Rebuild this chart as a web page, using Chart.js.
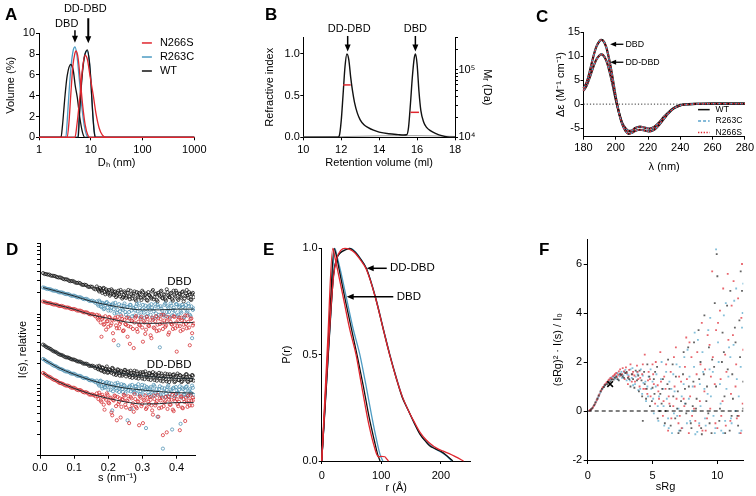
<!DOCTYPE html>
<html>
<head>
<meta charset="utf-8">
<script src="https://cdn.jsdelivr.net/npm/chart.js@4.4.1/dist/chart.umd.min.js"></script>
<style>
  body { margin: 0; background: #fff; }
  #fig { position: relative; width: 756px; height: 496px; overflow: hidden; font-family: "Liberation Sans", Arial, sans-serif; }
  canvas { position: absolute; }
  .lab { position: absolute; font-weight: bold; font-size: 17px; line-height: 17px; }
</style>
</head>
<body>
<div id="fig">
  <canvas id="cA" width="250" height="175" style="left:0;top:0"></canvas>
  <canvas id="cB" width="250" height="175" style="left:250px;top:0"></canvas>
  <canvas id="cC" width="256" height="175" style="left:500px;top:0"></canvas>
  <canvas id="cD" width="250" height="266" style="left:0;top:230px"></canvas>
  <canvas id="cE" width="250" height="266" style="left:250px;top:230px"></canvas>
  <canvas id="cF" width="256" height="266" style="left:500px;top:230px"></canvas>
  <div class="lab" style="left:5px;top:6px">A</div>
  <div class="lab" style="left:265px;top:6px">B</div>
  <div class="lab" style="left:536px;top:8px">C</div>
  <div class="lab" style="left:6px;top:241px">D</div>
  <div class="lab" style="left:263px;top:241px">E</div>
  <div class="lab" style="left:539px;top:241px">F</div>
</div>
<script>
// ---- A: DLS volume distributions (Dh in nm, volume %) ----
const dlsDbdWtX = [1, 2.66, 2.85, 3.0, 3.18, 3.5, 4.1, 4.6, 5.0, 5.5, 6.1, 6.9, 7.7, 1000];
const dlsDbdWtY = [0, 0, 1.2, 2.5, 4.0, 5.9, 7.0, 6.4, 5.0, 3.8, 2.0, 0.5, 0, 0];
const dlsDbdR263cX = [1, 3.3, 3.5, 3.8, 4.2, 4.6, 4.95, 5.4, 6.0, 6.7, 7.5, 8.3, 9.0, 1000];
const dlsDbdR263cY = [0, 0, 1.5, 4.3, 7.0, 8.4, 8.7, 7.9, 5.6, 3.0, 1.1, 0.2, 0, 0];
const dlsDbdN266sX = [1, 3.5, 3.8, 4.1, 4.5, 4.9, 5.2, 5.7, 6.3, 7.0, 7.8, 8.8, 9.6, 1000];
const dlsDbdN266sY = [0, 0, 1.5, 4.0, 6.8, 8.0, 8.3, 7.6, 5.4, 3.0, 1.2, 0.2, 0, 0];
const dlsDdWtX = [1, 5.74, 6.0, 6.38, 6.9, 7.6, 8.6, 9.4, 10.0, 10.4, 11.0, 11.6, 12.2, 1000];
const dlsDdWtY = [0, 0, 1.8, 4.0, 6.2, 7.8, 8.4, 7.3, 5.6, 4.0, 2.0, 0.6, 0, 0];
const dlsDdR263cX = [1, 5.6, 5.9, 6.3, 6.9, 7.6, 8.5, 9.3, 10.0, 10.4, 11.0, 11.7, 12.3, 1000];
const dlsDdR263cY = [0, 0, 1.6, 4.0, 6.4, 7.9, 8.3, 7.4, 5.6, 4.1, 2.1, 0.6, 0, 0];
const dlsDdN266sX = [1, 4.95, 5.4, 5.8, 6.2, 6.8, 7.7, 8.6, 9.6, 11.2, 12.7, 14.5, 16.8, 19.4, 1000];
const dlsDdN266sY = [0, 0, 1.2, 2.6, 4.0, 6.2, 7.9, 7.5, 6.0, 4.0, 2.2, 0.9, 0.2, 0, 0];
const dlsTicksX = [1, 10, 100, 1000];
const dlsTicksY = [0, 2, 4, 6, 8, 10];

// ---- B: SEC-MALS ----
const secVol = [10, 11.8, 11.9, 12.0, 12.1, 12.2, 12.3, 12.4, 12.5, 12.6, 12.7, 12.85, 13.0, 13.2, 13.4, 13.7, 14.0, 14.5, 15.0, 15.3,
                15.45, 15.55, 15.65, 15.75, 15.85, 15.92, 16.0, 16.1, 16.2, 16.35, 16.5, 16.7, 17.0, 17.3, 17.6, 18];
const secRi = [0, 0, 0.02, 0.2, 0.52, 0.85, 1.0, 0.93, 0.72, 0.55, 0.42, 0.29, 0.21, 0.15, 0.12, 0.085, 0.062, 0.042, 0.032, 0.028,
               0.03, 0.12, 0.4, 0.72, 0.95, 1.0, 0.88, 0.55, 0.32, 0.18, 0.12, 0.08, 0.045, 0.02, 0.005, 0];
const secBaseVol = [10, 12, 14, 16, 18];
const secBaseRi = [0.004, 0.008, 0.018, 0.02, 0.01];
const mrDdVol = [12.1, 12.5], mrDdDa = [60000, 60000];
const mrDbdVol = [15.65, 16.1], mrDbdDa = [23500, 23500];
const secTicksX = [10, 12, 14, 16, 18];
const secTicksY = [0, 0.5, 1.0];

// ---- C: CD spectra ----
const cdWl = [180, 182, 184, 186, 188, 190, 191, 192, 194, 196, 198, 200, 202, 204, 206, 208, 210, 212, 215, 218,
              221, 224, 227, 230, 233, 236, 240, 245, 250, 260, 270, 280];
const cdDbd = [3.3, 4.6, 7.0, 9.8, 12.0, 13.2, 13.4, 13.3, 12.0, 9.2, 5.6, 1.5, -1.8, -4.2, -5.6, -6.2, -6.0, -5.6, -5.35, -5.5,
               -5.7, -5.3, -4.3, -3.0, -1.8, -0.9, -0.25, -0.05, 0.05, 0.1, 0.1, 0.1];
const cdDd = [2.8, 3.9, 5.7, 7.7, 9.3, 10.2, 10.4, 10.3, 9.2, 7.0, 4.1, 0.9, -1.8, -3.9, -5.0, -5.6, -5.5, -5.0, -4.7, -4.9,
              -5.1, -4.7, -3.8, -2.6, -1.6, -0.8, -0.2, 0, 0.05, 0.1, 0.1, 0.1];
const cdZeroWl = [180, 280];
const cdTicksX = [180, 200, 220, 240, 260, 280];
const cdTicksY = [-5, 0, 5, 10, 15];

// ---- D: SAXS curves, log10 I(s), two interleaved s grids ----
const sGrid = [0.009, 0.018, 0.027, 0.036, 0.045, 0.054, 0.063, 0.072, 0.081, 0.09, 0.099, 0.108, 0.117, 0.126, 0.135, 0.144, 0.153, 0.162,
  0.1665, 0.171, 0.1755, 0.18, 0.1845, 0.189, 0.1935, 0.198, 0.2025, 0.207, 0.2115, 0.216, 0.2205, 0.225, 0.2295, 0.234,
  0.2385, 0.243, 0.2475, 0.252, 0.2565, 0.261, 0.2655, 0.27, 0.2745, 0.279, 0.2835, 0.288, 0.2925, 0.297, 0.3015, 0.306,
  0.3105, 0.315, 0.3195, 0.324, 0.3285, 0.333, 0.3375, 0.342, 0.3465, 0.351, 0.3555, 0.36, 0.3645, 0.369, 0.3735, 0.378,
  0.3825, 0.387, 0.3915, 0.396, 0.4005, 0.405, 0.4095, 0.414, 0.4185, 0.423, 0.4275, 0.432, 0.4365, 0.441, 0.4455, 0.45];
const sGridB = [0.0135, 0.0225, 0.0315, 0.0405, 0.0495, 0.0585, 0.0675, 0.0765, 0.0855, 0.0945, 0.1035, 0.1125, 0.1215, 0.1305, 0.1395, 0.1485, 0.1575,
  0.16875, 0.17325, 0.17775, 0.18225, 0.18675, 0.19125, 0.19575, 0.20025, 0.20475, 0.20925, 0.21375, 0.21825, 0.22275, 0.22725, 0.23175, 0.23625,
  0.24075, 0.24525, 0.24975, 0.25425, 0.25875, 0.26325, 0.26775, 0.27225, 0.27675, 0.28125, 0.28575, 0.29025, 0.29475, 0.29925, 0.30375, 0.30825,
  0.31275, 0.31725, 0.32175, 0.32625, 0.33075, 0.33525, 0.33975, 0.34425, 0.34875, 0.35325, 0.35775, 0.36225, 0.36675, 0.37125, 0.37575, 0.38025,
  0.38475, 0.38925, 0.39375, 0.39825, 0.40275, 0.40725, 0.41175, 0.41625, 0.42075, 0.42525, 0.42975, 0.43425, 0.43875, 0.44325, 0.44775];
const saxsDbdWt = [2.579, 2.565, 2.558, 2.541, 2.535, 2.517, 2.511, 2.491, 2.486, 2.465, 2.461, 2.44, 2.437, 2.412, 2.41, 2.383, 2.384, 2.35,
  2.39, 2.34, 2.37, 2.33, 2.36, 2.31, 2.35, 2.29, 2.34, 2.28, 2.33, 2.27, 2.32, 2.26, 2.33, 2.25,
  2.31, 2.24, 2.32, 2.23, 2.30, 2.25, 2.33, 2.22, 2.29, 2.21, 2.31, 2.24, 2.28, 2.20, 2.31, 2.23,
  2.29, 2.19, 2.27, 2.24, 2.32, 2.21, 2.28, 2.20, 2.30, 2.25, 2.33, 2.22, 2.27, 2.19, 2.31, 2.24,
  2.29, 2.21, 2.33, 2.25, 2.30, 2.20, 2.28, 2.23, 2.32, 2.22, 2.29, 2.26, 2.31, 2.21, 2.28, 2.24];
const saxsDbdWtB = [2.566, 2.558, 2.545, 2.54, 2.523, 2.519, 2.498, 2.492, 2.47, 2.468, 2.446, 2.443, 2.419, 2.415, 2.39, 2.389, 2.36,
  2.36, 2.32, 2.35, 2.30, 2.37, 2.28, 2.33, 2.31, 2.26, 2.35, 2.29, 2.31, 2.24, 2.30, 2.28, 2.34,
  2.22, 2.27, 2.30, 2.25, 2.34, 2.21, 2.28, 2.26, 2.32, 2.19, 2.26, 2.30, 2.23, 2.33, 2.25, 2.27,
  2.20, 2.31, 2.26, 2.22, 2.34, 2.24, 2.29, 2.18, 2.27, 2.32, 2.23, 2.28, 2.21, 2.35, 2.26, 2.24,
  2.30, 2.19, 2.27, 2.33, 2.22, 2.29, 2.25, 2.31, 2.18, 2.26, 2.34, 2.23, 2.28, 2.20, 2.30];
const saxsDbdR263c = [2.376, 2.36, 2.353, 2.336, 2.33, 2.311, 2.307, 2.288, 2.284, 2.263, 2.261, 2.24, 2.239, 2.215, 2.216, 2.188, 2.19, 2.16,
  2.18, 2.12, 2.17, 2.10, 2.15, 2.08, 2.16, 2.09, 2.14, 2.05, 2.13, 2.07, 2.16, 2.02, 1.56, 2.04,
  2.12, 2.06, 2.15, 1.99, 2.10, 2.03, 2.13, 1.97, 2.08, 2.05, 2.14, 1.98, 2.09, 2.02, 2.13, 1.95,
  2.07, 2.01, 2.12, 1.99, 2.09, 2.04, 2.14, 1.96, 2.10, 1.53, 2.08, 2.00, 2.13, 1.97, 2.11, 2.03,
  2.15, 1.98, 2.09, 2.05, 2.14, 1.99, 2.12, 2.02, 2.10, 1.96, 2.13, 2.04, 2.11, 1.97, 1.66, 2.08];
const saxsDbdR263cB = [2.371, 2.354, 2.348, 2.33, 2.324, 2.306, 2.301, 2.282, 2.277, 2.258, 2.254, 2.236, 2.231, 2.211, 2.207, 2.185, 2.18,
  2.14, 2.19, 2.11, 2.16, 2.07, 2.13, 2.17, 2.05, 2.12, 2.09, 2.15, 2.01, 2.11, 2.06, 2.14, 1.99,
  2.08, 2.12, 2.03, 2.10, 1.96, 2.13, 2.05, 2.09, 1.98, 2.11, 2.04, 2.15, 1.95, 2.07, 2.02, 2.12,
  1.97, 2.10, 2.06, 2.14, 1.94, 2.08, 2.01, 2.13, 1.99, 2.11, 2.05, 1.98, 2.15, 2.03, 2.09, 1.96,
  2.12, 2.06, 2.00, 2.14, 1.97, 2.10, 2.04, 2.13, 1.95, 2.08, 2.02, 2.15, 1.99, 2.11, 2.06];
const saxsDbdN266s = [2.178, 2.163, 2.157, 2.141, 2.136, 2.118, 2.115, 2.097, 2.094, 2.074, 2.072, 2.052, 2.05, 2.027, 2.026, 2.0, 2.001, 1.97,
  1.99, 1.92, 1.96, 1.68, 1.95, 1.86, 1.78, 1.90, 1.96, 1.84, 1.92, 1.63, 1.95, 1.80, 1.91, 1.86,
  1.97, 1.76, 1.92, 1.85, 1.68, 1.94, 1.82, 1.90, 1.52, 1.95, 1.79, 1.89, 1.84, 1.96, 1.61, 1.88,
  1.78, 1.93, 1.83, 1.70, 1.95, 1.81, 1.90, 1.76, 1.94, 1.86, 1.99, 1.79, 1.91, 1.84, 1.96, 1.74,
  1.89, 1.85, 1.97, 1.80, 1.47, 1.92, 1.83, 1.95, 1.78, 1.90, 1.86, 1.98, 1.81, 1.93, 1.73, 1.87];
const saxsDbdN266sB = [2.174, 2.157, 2.152, 2.135, 2.131, 2.113, 2.109, 2.092, 2.088, 2.07, 2.066, 2.048, 2.043, 2.024, 2.019, 1.996, 1.992,
  1.94, 1.98, 1.88, 1.93, 1.85, 1.97, 1.90, 1.82, 1.95, 1.87, 1.73, 1.92, 1.84, 1.96, 1.80, 1.89,
  1.93, 1.77, 1.86, 1.95, 1.83, 1.58, 1.91, 1.79, 1.88, 1.97, 1.75, 1.85, 1.93, 1.81, 1.90, 1.72,
  1.96, 1.84, 1.88, 1.66, 1.92, 1.80, 1.97, 1.85, 1.77, 1.93, 1.87, 1.99, 1.82, 1.90, 1.71, 1.94,
  1.86, 1.79, 1.96, 1.88, 1.83, 1.95, 1.76, 1.91, 1.85, 1.98, 1.80, 1.89, 1.56, 1.94, 1.84];
const saxsDdWt = [1.569, 1.538, 1.517, 1.487, 1.467, 1.437, 1.422, 1.397, 1.388, 1.366, 1.358, 1.335, 1.329, 1.303, 1.3, 1.27, 1.271, 1.24,
  1.26, 1.22, 1.25, 1.20, 1.24, 1.18, 1.23, 1.17, 1.22, 1.19, 1.24, 1.15, 1.20, 1.16, 1.21, 1.13,
  1.19, 1.15, 1.21, 1.12, 1.18, 1.14, 1.20, 1.10, 1.17, 1.13, 1.19, 1.09, 1.16, 1.12, 1.18, 1.08,
  1.15, 1.11, 1.17, 1.07, 1.14, 1.10, 1.16, 1.06, 1.13, 1.09, 1.16, 1.05, 1.12, 1.08, 1.15, 1.04,
  1.12, 1.09, 1.15, 1.05, 1.13, 1.07, 1.14, 1.04, 1.11, 1.08, 1.15, 1.05, 1.12, 1.07, 1.14, 1.06];
const saxsDdWtB = [1.556, 1.525, 1.505, 1.474, 1.455, 1.427, 1.413, 1.389, 1.38, 1.359, 1.35, 1.329, 1.32, 1.298, 1.291, 1.268, 1.262,
  1.23, 1.27, 1.21, 1.25, 1.19, 1.22, 1.26, 1.18, 1.21, 1.17, 1.23, 1.19, 1.14, 1.22, 1.17, 1.20,
  1.13, 1.18, 1.21, 1.15, 1.19, 1.11, 1.17, 1.14, 1.20, 1.10, 1.16, 1.13, 1.18, 1.09, 1.15, 1.19,
  1.12, 1.08, 1.16, 1.13, 1.18, 1.07, 1.14, 1.11, 1.17, 1.06, 1.13, 1.10, 1.16, 1.05, 1.12, 1.15,
  1.08, 1.14, 1.04, 1.11, 1.16, 1.07, 1.13, 1.05, 1.12, 1.09, 1.15, 1.04, 1.11, 1.07, 1.13];
const saxsDdR263c = [1.366, 1.336, 1.314, 1.285, 1.266, 1.237, 1.222, 1.196, 1.188, 1.163, 1.158, 1.132, 1.128, 1.1, 1.097, 1.068, 1.066, 1.04,
  1.06, 1.01, 1.05, 0.98, 1.04, 0.96, 1.02, 0.99, 1.03, 0.93, 0.64, 0.97, 1.02, 0.92, 1.00, 0.95,
  1.01, 0.90, 0.99, 0.94, 0.50, 0.97, 0.91, 1.00, 0.89, 0.98, 0.93, 1.01, 0.87, 0.96, 0.92, 0.99,
  0.39, 0.95, 0.86, 0.97, 0.90, 1.00, 0.85, 0.94, 0.89, 0.98, 0.84, 0.10, 0.95, 0.88, 0.97, 0.83,
  0.93, 0.37, 0.96, 0.85, 0.92, 0.88, 0.98, 0.82, 0.94, 0.87, 0.97, 0.84, 0.92, 0.89, 0.99, 0.86];
const saxsDdR263cB = [1.354, 1.322, 1.303, 1.272, 1.255, 1.227, 1.212, 1.189, 1.179, 1.157, 1.148, 1.127, 1.117, 1.096, 1.086, 1.064, 1.056,
  1.03, 0.99, 1.06, 0.95, 1.01, 0.97, 1.04, 0.93, 0.99, 1.02, 0.91, 0.98, 0.95, 1.03, 0.90, 0.97,
  0.94, 1.00, 0.88, 0.96, 0.92, 0.99, 0.66, 0.94, 0.90, 0.98, 0.87, 0.95, 0.91, 1.00, 0.86, 0.93,
  0.97, 0.89, 0.95, 0.84, 0.92, 0.98, 0.88, 0.55, 0.94, 0.86, 0.96, 0.90, 0.83, 0.93, 0.99, 0.87,
  0.91, 0.95, 0.84, 0.97, 0.89, 0.93, 0.45, 0.96, 0.86, 0.92, 0.98, 0.85, 0.94, 0.88, 0.96];
const saxsDdN266s = [1.168, 1.137, 1.115, 1.086, 1.067, 1.037, 1.022, 0.998, 0.99, 0.965, 0.96, 0.932, 0.928, 0.9, 0.897, 0.865, 0.866, 0.84,
  0.88, 0.80, 0.85, 0.76, 0.83, 0.65, 0.79, 0.86, 0.74, 0.82, 0.57, 0.78, 0.84, 0.50, 0.73, 0.81,
  0.69, 0.79, 0.85, 0.68, 0.77, 0.46, 0.83, 0.71, 0.62, 0.80, 0.67, 0.76, 0.84, 0.70, 0.46, 0.78,
  0.66, 0.82, 0.73, 0.79, 0.64, 0.85, 0.71, 0.77, 0.55, 0.81, 0.68, 0.29, 0.75, 0.83, 0.66, 0.79,
  0.72, 0.86, 0.63, 0.77, 0.80, 0.70, 0.36, 0.84, 0.67, 0.76, 0.82, 0.69, 0.78, 0.85, 0.71, 0.79];
const saxsDdN266sB = [1.156, 1.122, 1.104, 1.073, 1.056, 1.026, 1.014, 0.99, 0.982, 0.958, 0.95, 0.926, 0.918, 0.893, 0.886, 0.861, 0.857,
  0.84, 0.89, 0.78, 0.86, 0.72, 0.82, 0.88, 0.75, 0.81, 0.61, 0.79, 0.85, 0.70, 0.83, 0.76, 0.54,
  0.80, 0.86, 0.72, 0.78, 0.84, 0.66, 0.81, 0.74, 0.87, 0.69, 0.77, 0.43, 0.82, 0.73, 0.79, 0.85,
  0.68, 0.76, 0.83, 0.71, 0.58, 0.80, 0.74, 0.86, 0.67, 0.78, 0.82, 0.70, 0.77, 0.33, 0.84, 0.72,
  0.79, 0.65, 0.81, 0.87, 0.73, 0.76, 0.83, 0.68, 0.80, 0.49, 0.75, 0.85, 0.71, 0.78, 0.82];
const sFit = [0.009, 0.05, 0.1, 0.15, 0.2, 0.25, 0.3, 0.35, 0.4, 0.45];
const fitDbdR263c = [2.375, 2.322, 2.256, 2.18, 2.128, 2.085, 2.06, 2.06, 2.07, 2.07];
const fitDbdN266s = [2.178, 2.13, 2.068, 1.99, 1.94, 1.89, 1.87, 1.87, 1.88, 1.88];
const fitDdWt = [1.568, 1.452, 1.352, 1.27, 1.20, 1.155, 1.126, 1.105, 1.093, 1.09];
const fitDdR263c = [1.366, 1.252, 1.15, 1.065, 0.999, 0.955, 0.928, 0.905, 0.89, 0.885];
const fitDdN266s = [1.168, 1.052, 0.952, 0.87, 0.81, 0.76, 0.73, 0.735, 0.75, 0.75];
const saxsTicksX = [0, 0.1, 0.2, 0.3, 0.4];

// ---- E: pair distance distributions ----
const prDbdWtR = [0, 5, 10, 15, 20.7, 25, 30, 40, 50, 60, 70, 80, 88, 94, 98];
const prDbdWtP = [0, 0.25, 0.5, 0.76, 1.0, 0.96, 0.89, 0.75, 0.62, 0.49, 0.35, 0.2, 0.1, 0.03, 0];
const prDbdR263cR = [0, 5, 10, 15, 22, 26, 32, 42, 52, 64, 74, 84, 92, 98, 102.5];
const prDbdR263cP = [0, 0.23, 0.46, 0.69, 1.0, 0.96, 0.89, 0.76, 0.63, 0.5, 0.36, 0.21, 0.1, 0.03, 0];
const prDbdN266sR = [0, 5, 10, 18.5, 22, 28, 37.5, 47, 57.6, 66, 73, 80, 88, 95, 100, 106, 109, 112];
const prDbdN266sP = [0, 0.28, 0.56, 1.0, 0.96, 0.88, 0.75, 0.62, 0.5, 0.37, 0.26, 0.16, 0.07, 0.02, 0.022, 0.02, 0.01, 0];
const prDdWtR = [0, 5, 10, 15, 20, 25, 30, 38, 47, 55, 65, 75, 90, 105, 114, 125, 135, 145, 155, 165, 175, 181, 190, 200, 210, 220];
const prDdWtP = [0, 0.22, 0.45, 0.68, 0.88, 0.95, 0.975, 0.99, 1.0, 0.985, 0.95, 0.905, 0.77, 0.6, 0.5, 0.39, 0.3, 0.24, 0.18, 0.125,
                 0.09, 0.072, 0.058, 0.045, 0.025, 0];
const prDdR263cR = [0, 5, 10, 15, 20, 25, 30, 40, 48, 56, 65, 75, 90, 105, 114, 125, 135, 145, 155, 165, 175, 185, 195, 205, 212, 218];
const prDdR263cP = [0, 0.23, 0.46, 0.69, 0.88, 0.95, 0.975, 0.995, 1.0, 0.985, 0.952, 0.905, 0.775, 0.605, 0.505, 0.395, 0.305, 0.24,
                    0.18, 0.128, 0.092, 0.068, 0.05, 0.033, 0.018, 0];
const prDdN266sR = [0, 5, 10, 15, 20, 25, 32, 39, 47, 55, 65, 75, 90, 105, 114, 125, 135, 145, 155, 165, 175, 185, 192, 204, 214, 226, 238];
const prDdN266sP = [0, 0.24, 0.48, 0.7, 0.87, 0.95, 0.99, 1.0, 0.995, 0.98, 0.945, 0.9, 0.77, 0.6, 0.5, 0.39, 0.305, 0.24, 0.185, 0.135,
                    0.1, 0.075, 0.062, 0.046, 0.035, 0.018, 0];
const prTicksX = [0, 100, 200];
const prTicksY = [0, 0.5, 1.0];

// ---- F: dimensionless Kratky plots [sRg, (sRg)^2 I/I0] ----
const kratkyN266s = [[0.15,0.02],[0.3,0.08],[0.45,0.2],[0.6,0.34],[0.75,0.5],[0.9,0.68],[1.05,0.85],[1.2,0.98],[1.35,1.1],[1.5,1.18],
  [1.65,1.28],[1.8,1.33],[1.95,1.42],[2.1,1.5],[2.25,1.38],[2.4,1.62],[2.55,1.45],[2.7,1.75],[2.85,1.3],[3.0,1.55],
  [3.2,1.68],[3.4,1.2],[3.6,1.45],[3.8,1.85],[4.0,1.0],[4.2,1.5],[4.4,2.3],[4.6,0.7],[4.8,1.3],[5.0,1.9],
  [5.2,0.3],[5.4,1.05],[5.6,2.4],[5.8,-0.2],[6.0,0.9],[6.2,-0.8],[6.4,1.6],[6.6,0.2],[6.8,2.6],[7.0,-0.5],
  [7.2,1.2],[7.4,0.5],[7.6,3.0],[7.8,-0.9],[8.0,2.2],[8.2,0.1],[8.4,1.5],[8.6,-0.6],[8.8,3.6],[9.0,0.8],
  [9.2,-0.3],[9.4,2.7],[9.6,5.7],[9.8,1.1],[10.0,-0.7],[10.2,4.1],[10.4,0.4],[10.6,2.3],[10.8,5.6],[11.0,-0.4],
  [11.2,3.1],[11.4,1.0],[11.6,4.6],[11.8,-0.9],[12.0,2.5],
  [3.1,1.1],[3.5,1.6],[3.9,1.3],[4.3,0.9],[4.7,1.6],[5.1,1.1],[5.5,0.5],[5.9,1.4],[6.3,0.3],[6.7,1.0],
  [7.1,-0.2],[7.5,1.8],[7.9,0.6],[8.3,-0.4],[8.7,1.9],[9.1,-0.8],[9.5,1.4],[9.9,3.3],[10.3,-0.2],[10.7,1.6],
  [11.1,4.3],[11.5,-0.3],[11.9,6.0],
  [0.2,0.04],[0.4,0.14],[0.55,0.27],[0.7,0.44],[0.85,0.62],[1.0,0.8],[1.15,0.95],[1.3,1.06],[1.45,1.16],[1.6,1.25],
  [1.75,1.35],[1.9,1.3],[2.05,1.46],[2.2,1.55],[2.35,1.48],[2.5,1.7],[2.65,1.5],[2.8,1.62],[2.95,1.78],[3.15,1.4],
  [3.3,1.9],[3.45,1.5],[3.65,1.2],[3.85,1.6],[4.05,1.35],[4.25,1.9],[4.45,0.9],[4.65,1.25],[4.85,0.6],[5.05,1.5],
  [5.25,2.0],[5.45,0.8],[5.65,1.2],[5.85,0.4],[6.05,1.9],[6.25,0.6],[6.45,-0.3],[6.65,2.2],[6.85,0.5],[7.05,1.4],
  [7.25,-0.7],[7.45,0.2],[7.65,1.3],[7.85,2.8],[8.05,-0.2],[8.25,1.0],[8.45,2.4],[8.65,0.4],[8.85,-0.8],[9.05,1.7],
  [9.25,3.1],[9.45,0.1],[9.65,2.2],[9.85,-0.5],[10.05,3.6],[10.25,1.3],[10.45,5.0],[10.65,-0.6],[10.85,2.9],[11.05,0.7],
  [11.25,5.3],[11.45,1.9],[11.65,-0.2],[11.85,3.8],[11.95,0.3]];
const kratkyR263c = [[0.2,0.03],[0.4,0.15],[0.55,0.28],[0.7,0.45],[0.85,0.6],[1.0,0.78],[1.15,0.92],[1.3,1.03],[1.45,1.12],[1.6,1.2],
  [1.75,1.27],[1.9,1.3],[2.05,1.35],[2.2,1.45],[2.35,1.28],[2.5,1.52],[2.65,1.35],[2.8,1.6],[3.0,1.25],[3.15,1.45],
  [3.3,1.7],[3.5,1.05],[3.7,1.4],[3.9,0.85],[4.1,1.7],[4.3,1.15],[4.5,0.4],[4.7,1.4],[4.9,0.9],[5.1,-0.1],
  [5.3,1.5],[5.5,0.6],[5.7,2.0],[5.9,-0.6],[6.1,0.5],[6.3,1.2],[6.5,-0.9],[6.7,0.8],[6.9,-0.2],[7.1,1.8],
  [7.3,-0.7],[7.5,0.3],[7.7,2.5],[7.9,-0.4],[8.1,1.0],[8.3,-0.95],[8.5,2.9],[8.7,0.2],[8.9,1.6],[9.1,-0.6],
  [9.3,3.3],[9.5,0.6],[9.7,-0.2],[9.9,6.6],[10.1,2.0],[10.3,-0.8],[10.5,3.9],[10.7,0.9],[10.9,2.6],[11.1,-0.5],
  [11.3,4.5],[11.5,1.3],[11.7,-0.9],[11.9,3.4],[12.0,5.2],
  [3.4,1.35],[3.8,1.6],[4.2,0.7],[4.6,1.0],[5.0,1.2],[5.4,0.2],[5.8,0.9],[6.2,-0.3],[6.6,1.5],[7.0,0.1],
  [7.4,1.1],[7.8,0.5],[8.2,1.8],[8.6,-0.5],[9.0,0.9],[9.4,1.7],[9.8,-0.9],[10.2,1.1],[10.6,-0.4],[11.0,2.2],
  [11.4,0.0],[11.8,1.8],
  [0.3,0.09],[0.5,0.22],[0.65,0.38],[0.8,0.55],[0.95,0.72],[1.1,0.88],[1.25,1.0],[1.4,1.1],[1.55,1.2],[1.7,1.3],
  [1.85,1.38],[2.0,1.4],[2.15,1.32],[2.3,1.55],[2.45,1.42],[2.6,1.6],[2.75,1.45],[2.9,1.68],[3.05,1.5],[3.25,1.25],
  [3.45,1.75],[3.65,1.1],[3.85,1.5],[4.05,0.9],[4.25,1.45],[4.45,1.2],[4.65,0.6],[4.85,1.7],[5.05,0.5],[5.25,1.0],
  [5.45,-0.4],[5.65,1.3],[5.85,0.2],[6.05,1.6],[6.25,-0.7],[6.45,0.9],[6.65,-0.1],[6.85,1.9],[7.05,-0.8],[7.25,0.6],
  [7.45,2.2],[7.65,-0.5],[7.85,1.4],[8.05,0.0],[8.25,3.2],[8.45,-0.85],[8.65,1.1],[8.85,2.4],[9.05,-0.3],[9.25,0.7],
  [9.45,3.8],[9.65,1.6],[9.85,-0.7],[10.05,2.8],[10.25,0.3],[10.45,-0.9],[10.65,4.4],[10.85,1.4],[11.05,-0.3],[11.25,2.7],
  [11.45,5.0],[11.65,0.6],[11.85,-0.8],[11.95,4.0]];
const kratkyWt = [[0.25,0.06],[0.5,0.24],[0.75,0.5],[1.0,0.8],[1.25,0.98],[1.5,1.1],[1.75,1.2],[2.0,1.28],[2.2,1.4],[2.4,1.25],
  [2.6,1.48],[2.8,1.35],[3.0,1.6],[3.2,1.3],[3.4,1.5],[3.6,0.95],[3.8,1.25],[4.0,1.65],[4.2,0.6],[4.4,1.1],
  [4.6,1.9],[4.8,0.2],[5.0,0.95],[5.2,1.6],[5.4,-0.3],[5.6,0.7],[5.8,1.3],[6.0,0.0],[6.2,2.1],[6.4,-0.6],
  [6.6,0.6],[6.8,1.4],[7.0,-0.9],[7.2,0.4],[7.4,2.4],[7.6,-0.1],[7.8,1.0],[8.0,-0.7],[8.2,2.8],[8.4,0.5],
  [8.6,1.3],[8.8,-0.95],[9.0,3.9],[9.2,1.0],[9.4,-0.5],[9.6,2.1],[9.8,4.4],[9.95,6.4],[10.2,0.1],[10.4,3.2],
  [10.6,-0.9],[10.8,1.7],[11.0,4.9],[11.2,0.5],[11.4,2.8],[11.6,-0.6],[11.8,5.7],[12.0,1.2],
  [3.3,1.0],[3.9,1.45],[4.5,0.5],[5.1,1.3],[5.7,0.3],[6.3,0.9],[6.9,0.1],[7.5,0.9],[8.1,0.2],[8.7,2.0],
  [9.3,-0.1],[9.9,1.0],[10.5,2.4],[11.1,-0.2],[11.7,3.7],[4.25,-0.4],
  [0.35,0.12],[0.6,0.35],[0.85,0.64],[1.1,0.9],[1.35,1.06],[1.6,1.17],[1.85,1.28],[2.1,1.36],[2.3,1.3],[2.5,1.5],
  [2.7,1.4],[2.9,1.55],[3.1,1.35],[3.5,1.3],[3.7,1.65],[3.95,0.8],[4.15,1.25],[4.35,1.6],[4.55,0.9],[4.75,1.4],
  [4.95,0.4],[5.15,0.7],[5.35,1.8],[5.55,0.0],[5.75,0.9],[5.95,-0.5],[6.15,1.1],[6.35,0.2],[6.55,1.9],[6.75,-0.3],
  [6.95,0.8],[7.15,-0.8],[7.35,1.5],[7.55,0.3],[7.75,2.6],[7.95,-0.5],[8.15,1.2],[8.35,0.1],[8.55,3.3],[8.75,-0.7],
  [8.95,1.5],[9.15,0.4],[9.35,2.6],[9.55,-0.9],[9.75,1.8],[10.0,5.5],[10.15,-0.4],[10.35,2.0],[10.55,0.6],[10.75,4.3],
  [10.95,-0.8],[11.15,1.5],[11.35,3.4],[11.55,-0.2],[11.75,2.2],[11.9,4.9],[12.0,0.1]];
const kratkyGuinier = [[1.73, 1.1]];
const kratkyZeroX = [0, 12];
const kratkyTicksX = [0, 5, 10];
const kratkyTicksY = [-2, 0, 2, 4, 6];

// ---------------------------------------------------------------
const FONT = '"Liberation Sans", Arial, sans-serif';
Chart.defaults.font.family = FONT;
Chart.defaults.font.size = 11;
Chart.defaults.color = '#000';

const pts = (xs, ys) => xs.map((x, i) => ({ x, y: ys[i] }));
const pairs = arr => arr.map(p => ({ x: p[0], y: p[1] }));

function curve(data, color, extra) {
  return Object.assign({
    data, borderColor: color, backgroundColor: color, borderWidth: 1.3,
    showLine: true, pointRadius: 0, cubicInterpolationMode: 'monotone', clip: false
  }, extra || {});
}

function axis(o) {
  const ticks = { display: o.labels !== false, padding: o.pad ?? 1, autoSkip: false, maxRotation: 0, minRotation: 0 };
  if (o.fmt) ticks.callback = o.fmt;
  return {
    type: o.type || 'linear',
    position: o.position,
    min: o.min, max: o.max,
    border: { display: true, color: '#000', width: 1 },
    grid: { display: true, drawOnChartArea: false, drawTicks: true, tickLength: o.tick ?? 3, color: '#000', lineWidth: 1 },
    ticks,
    title: o.title ? { display: true, text: o.title, font: { size: 11 }, padding: o.titlePad } : { display: false },
    afterBuildTicks: s => { if (o.ticks) s.ticks = o.ticks.map(v => ({ value: v })); },
    afterFit: s => { if (s.isHorizontal()) s.height = o.size; else s.width = o.size; }
  };
}

// arrows, text and hand-made legend keys, placed in data units
const notes = {
  id: 'notes',
  afterDatasetsDraw(chart, args, o) {
    const { ctx } = chart, xs = chart.scales.x, ys = chart.scales.y;
    const px = p => [xs.getPixelForValue(p[0]), ys.getPixelForValue(p[1])];
    ctx.save();
    (o.keys || []).forEach(k => {
      const [x1, y1] = px(k.from), [x2] = px(k.to);
      ctx.strokeStyle = k.color; ctx.lineWidth = k.w || 1.5; ctx.setLineDash(k.dash || []);
      ctx.beginPath(); ctx.moveTo(x1, y1); ctx.lineTo(x2, y1); ctx.stroke();
    });
    ctx.setLineDash([]);
    (o.arrows || []).forEach(a => {
      const [x1, y1] = px(a.from), [x2, y2] = px(a.to);
      const ang = Math.atan2(y2 - y1, x2 - x1), hl = a.head || 7, hw = (a.headW || 6) / 2;
      const c = Math.cos(ang), s = Math.sin(ang);
      ctx.strokeStyle = '#000'; ctx.fillStyle = '#000'; ctx.lineWidth = a.w || 1.5;
      ctx.beginPath(); ctx.moveTo(x1, y1); ctx.lineTo(x2 - c * hl * 0.7, y2 - s * hl * 0.7); ctx.stroke();
      ctx.beginPath(); ctx.moveTo(x2, y2);
      ctx.lineTo(x2 - c * hl - s * hw, y2 - s * hl + c * hw);
      ctx.lineTo(x2 - c * hl + s * hw, y2 - s * hl - c * hw);
      ctx.closePath(); ctx.fill();
    });
    (o.texts || []).forEach(t => {
      const [tx, ty] = px(t.at);
      ctx.font = `${t.size || 11}px ${FONT}`;
      ctx.fillStyle = '#000'; ctx.textAlign = t.align || 'center'; ctx.textBaseline = 'middle';
      ctx.fillText(t.text, tx, ty);
    });
    ctx.restore();
  }
};

function make(id, datasets, scales, padding, notesOpts) {
  return new Chart(document.getElementById(id), {
    type: 'scatter',
    data: { datasets },
    options: {
      responsive: false, animation: false, devicePixelRatio: 1, events: [],
      layout: { padding },
      plugins: { legend: { display: false }, tooltip: { enabled: false }, notes: notesOpts || {} },
      scales
    },
    plugins: [notes]
  });
}

const RED = '#e0262e', BLUE = '#4c9bc3', BLACK = '#111111';

// A
make('cA', [
  curve(pts(dlsDbdN266sX, dlsDbdN266sY), RED),
  curve(pts(dlsDdN266sX, dlsDdN266sY), RED),
  curve(pts(dlsDbdWtX, dlsDbdWtY), BLACK),
  curve(pts(dlsDdWtX, dlsDdWtY), BLACK),
  curve(pts(dlsDbdR263cX, dlsDbdR263cY), BLUE),
  curve(pts(dlsDdR263cX, dlsDdR263cY), BLUE)
], {
  x: axis({ type: 'logarithmic', position: 'bottom', min: 1, max: 1000, ticks: dlsTicksX, fmt: v => String(v),
            size: 37.7, pad: 3.5, title: 'Dₕ (nm)', titlePad: { top: 4, bottom: 5 } }),
  y: axis({ position: 'left', min: 0, max: 10, ticks: dlsTicksY, size: 39, pad: 1,
            title: 'Volume (%)', titlePad: { top: 4, bottom: 4 } })
}, { top: 33.3, right: 55.7, left: 0, bottom: 0 }, {
  arrows: [{ from: [4.95, 10.3], to: [4.95, 9.1], w: 1.5 }, { from: [8.95, 11.45], to: [8.95, 9.05], w: 2 }],
  texts: [{ at: [3.43, 10.91], text: 'DBD' }, { at: [7.84, 12.32], text: 'DD-DBD' },
          { at: [216.8, 9.07], text: 'N266S', align: 'left' }, { at: [216.8, 7.72], text: 'R263C', align: 'left' },
          { at: [216.8, 6.375], text: 'WT', align: 'left' }],
  keys: [{ from: [97.3, 9.07], to: [151.6, 9.07], color: RED }, { from: [97.3, 7.72], to: [151.6, 7.72], color: BLUE },
         { from: [97.3, 6.375], to: [151.6, 6.375], color: BLACK }]
});

// B
make('cB', [
  curve(pts(mrDdVol, mrDdDa), RED, { yAxisID: 'y1', cubicInterpolationMode: 'default', borderWidth: 1.5 }),
  curve(pts(mrDbdVol, mrDbdDa), RED, { yAxisID: 'y1', cubicInterpolationMode: 'default', borderWidth: 1.5 }),
  curve(pts(secVol, secRi), BLACK, { borderWidth: 1.4 }),
  curve(pts(secBaseVol, secBaseRi), '#9a9a9a', { borderWidth: 1 })
], {
  x: axis({ position: 'bottom', min: 10, max: 18, ticks: secTicksX, size: 37.7, pad: 3.5,
            title: 'Retention volume (ml)', titlePad: { top: 4, bottom: 5 } }),
  y: axis({ position: 'left', min: 0, max: 1.2, ticks: secTicksY, fmt: v => v.toFixed(1), size: 53.3, pad: 0.5,
            title: 'Refractive index', titlePad: { top: 13.4, bottom: 4 } }),
  y1: axis({ type: 'logarithmic', position: 'right', min: 1e4, max: 3.06e5,
             ticks: [1e4, 2e4, 3e4, 4e4, 5e4, 6e4, 7e4, 8e4, 9e4, 1e5, 2e5, 3e5],
             fmt: v => (v === 1e4 ? '10⁴' : v === 1e5 ? '10⁵' : ''), size: 45, pad: 0.5,
             title: 'Mᵣ (Da)', titlePad: { top: 6, bottom: 4 } })
}, { top: 37.3, right: 0, left: 0, bottom: 0 }, {
  arrows: [{ from: [12.34, 1.216], to: [12.34, 1.03] }, { from: [15.91, 1.216], to: [15.91, 1.03] }],
  texts: [{ at: [12.42, 1.297], text: 'DD-DBD' }, { at: [15.91, 1.297], text: 'DBD' }]
});

// C
const cdStyle = data => [
  curve(data, RED, { borderWidth: 1.4, borderDash: [1.5, 1.5] }),
  curve(data, '#5aa3cc', { borderWidth: 1.4, borderDash: [3, 2.5] }),
  curve(data, BLACK, { borderWidth: 2.2 })
];
make('cC', [
  ...cdStyle(pts(cdWl, cdDbd)),
  ...cdStyle(pts(cdWl, cdDd)),
  curve(pts(cdZeroWl, [0, 0]), '#333', { borderWidth: 1, borderDash: [1.2, 2] })
], {
  x: axis({ position: 'bottom', min: 180, max: 280, ticks: cdTicksX, size: 38.3, pad: 2,
            title: 'λ (nm)', titlePad: { top: 4, bottom: 1.7 } }),
  y: axis({ position: 'left', min: -6.8, max: 15, ticks: cdTicksY, size: 83.5, pad: 0.5,
            title: 'Δε (M⁻¹ cm⁻¹)', titlePad: { top: 54.4, bottom: 4 } })
}, { top: 32.3, right: 10.5, left: 0, bottom: 0 }, {
  arrows: [{ from: [204.7, 12.5], to: [196.5, 12.5], head: 6, headW: 5, w: 1.3 },
           { from: [204.7, 8.75], to: [196.5, 8.75], head: 6, headW: 5, w: 1.3 }],
  texts: [{ at: [206, 12.5], text: 'DBD', align: 'left', size: 8.8 }, { at: [206, 8.75], text: 'DD-DBD', align: 'left', size: 8.8 },
          { at: [261.9, -1.15], text: 'WT', align: 'left', size: 8.6 }, { at: [261.9, -3.5], text: 'R263C', align: 'left', size: 8.6 },
          { at: [261.9, -5.9], text: 'N266S', align: 'left', size: 8.6 }],
  keys: [{ from: [251, -1.15], to: [258.2, -1.15], color: BLACK, w: 1.5 },
         { from: [251, -3.5], to: [258.2, -3.5], color: '#5aa3cc', w: 1.5, dash: [3, 2] },
         { from: [251, -5.9], to: [258.2, -5.9], color: RED, w: 1.5, dash: [1.3, 1.5] }]
});

// D
const logTicks = [];
for (let d = 0; d < 3; d++) for (let m = 1; m < 10; m++) logTicks.push(d + Math.log10(m));
logTicks.push(3);
const dots = (ys, ysB, color) => ({
  data: pts(sGrid, ys).concat(pts(sGridB, ysB)), showLine: false, pointStyle: 'circle', pointRadius: 1.6, pointBorderWidth: 0.75,
  borderColor: color, pointBorderColor: color, backgroundColor: 'rgba(0,0,0,0)', pointBackgroundColor: 'rgba(0,0,0,0)'
});
const fit = ys => curve(pts(sFit, ys), '#1f2a30', { borderWidth: 1 });
make('cD', [
  fit(fitDbdR263c), fit(fitDbdN266s), fit(fitDdR263c), fit(fitDdN266s), fit(fitDdWt),
  dots(saxsDbdN266s, saxsDbdN266sB, '#d42a2e'), dots(saxsDdN266s, saxsDdN266sB, '#d42a2e'),
  dots(saxsDbdR263c, saxsDbdR263cB, '#4a8db0'), dots(saxsDdR263c, saxsDdR263cB, '#4a8db0'),
  dots(saxsDbdWt, saxsDbdWtB, BLACK), dots(saxsDdWt, saxsDdWtB, BLACK)
], {
  x: axis({ position: 'bottom', min: 0, max: 0.454, ticks: saxsTicksX, fmt: v => v.toFixed(1), size: 40.3, pad: 3,
            title: 's (nm⁻¹)', titlePad: { top: 4, bottom: 11.1 } }),
  y: axis({ position: 'left', min: 0, max: 3, ticks: logTicks, labels: false, size: 40,
            title: 'I(s), relative', titlePad: { top: 16.7, bottom: 4 } })
}, { top: 13.3, right: 55, left: 0, bottom: 0 }, {
  texts: [{ at: [0.444, 2.458], text: 'DBD', align: 'right', size: 11.5 }, { at: [0.444, 1.281], text: 'DD-DBD', align: 'right', size: 11.5 }]
});

// E
make('cE', [
  curve(pts(prDbdN266sR, prDbdN266sP), RED),
  curve(pts(prDdN266sR, prDdN266sP), RED),
  curve(pts(prDbdWtR, prDbdWtP), BLACK),
  curve(pts(prDdWtR, prDdWtP), BLACK),
  curve(pts(prDbdR263cR, prDbdR263cP), BLUE),
  curve(pts(prDdR263cR, prDdR263cP), BLUE)
], {
  x: axis({ position: 'bottom', min: 0, max: 250, ticks: prTicksX, size: 35, pad: 5.4,
            title: 'r (Å)', titlePad: { top: 4, bottom: 1.1 } }),
  y: axis({ position: 'left', min: 0, max: 1.0, ticks: prTicksY, fmt: v => v.toFixed(1), size: 71.7, pad: 1,
            title: 'P(r)', titlePad: { top: 30, bottom: 4 } })
}, { top: 18.3, right: 29.3, left: 0, bottom: 0 }, {
  arrows: [{ from: [109.1, 0.906], to: [75.5, 0.906] }, { from: [120.1, 0.772], to: [41.9, 0.772] }],
  texts: [{ at: [114.6, 0.906], text: 'DD-DBD', align: 'left', size: 11.5 }, { at: [125.8, 0.772], text: 'DBD', align: 'left', size: 11.5 }]
});

// F
const specks = (arr, color) => ({
  data: pairs(arr), showLine: false, pointStyle: 'rect', pointRadius: 1.3, pointBorderWidth: 0,
  backgroundColor: color, pointBackgroundColor: color, borderColor: color
});
make('cF', [
  curve(pts(kratkyZeroX, [0, 0]), '#000', { borderWidth: 1.2, borderDash: [4, 3] }),
  { data: pairs(kratkyGuinier), showLine: false, pointStyle: 'crossRot', pointRadius: 4, pointBorderWidth: 1.6,
    borderColor: '#000', pointBorderColor: '#000' },
  specks(kratkyWt, 'rgba(60,60,60,0.8)'),
  specks(kratkyN266s, 'rgba(226,64,74,0.8)'),
  specks(kratkyR263c, 'rgba(110,180,210,0.85)')
], {
  x: axis({ position: 'bottom', min: 0, max: 12, ticks: kratkyTicksX, size: 36, pad: 5.4, tick: 4,
            title: 'sRg', titlePad: { top: 4, bottom: 2.7 } }),
  y: axis({ position: 'left', min: -2, max: 7, ticks: kratkyTicksY, size: 87.7, pad: 1.5, tick: 4,
            title: '(sRg)² · I(s) / I₀', titlePad: { top: 51.7, bottom: 4 } })
}, { top: 9.5, right: 12.7, left: 0, bottom: 0 });
</script>
</body>
</html>
